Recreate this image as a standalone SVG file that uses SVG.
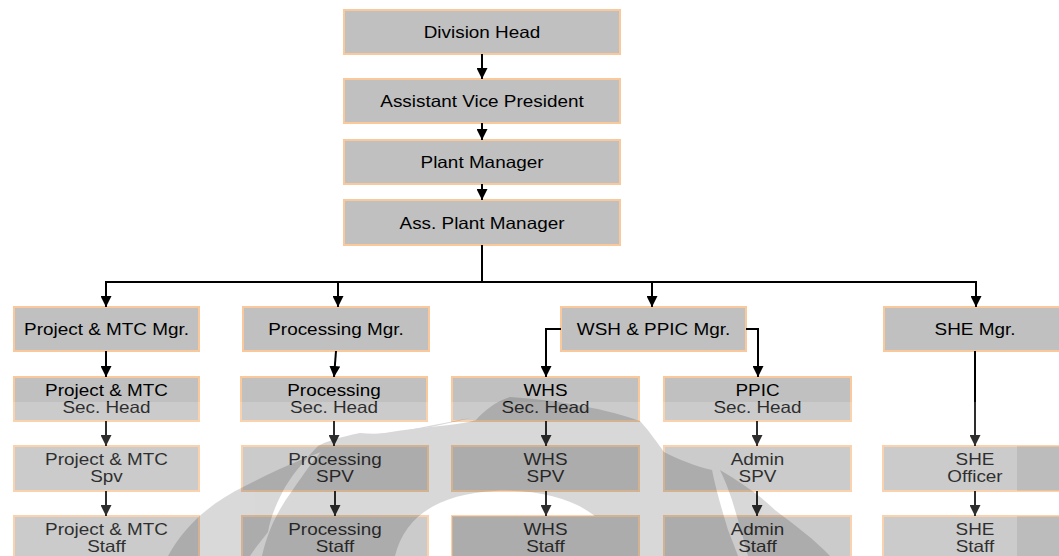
<svg xmlns="http://www.w3.org/2000/svg" width="1059" height="556" viewBox="0 0 1059 556">
  <style>
    .box { fill: #c0c0c0; stroke: #f9c99c; stroke-width: 2; }
    .lbl { font-family: "Liberation Sans", Arial, sans-serif; font-size: 16.3px; fill: #000; text-anchor: middle; }
    .wire { fill: none; stroke: #000; stroke-width: 2; }
    .arrow { fill: none; stroke: #000; stroke-width: 2; marker-end: url(#head); }
  </style>
  <defs>
    <marker id="head" markerUnits="userSpaceOnUse" markerWidth="11" markerHeight="11" refX="11" refY="5.5" orient="auto">
      <path d="M0,0 L11,5.5 L0,11 Z" fill="#000"/>
    </marker>
  </defs>

  <rect width="1059" height="556" fill="#fff"/>

  <!-- executive chain -->
  <g id="division-head">
    <rect class="box" x="344" y="10" width="276" height="44"/>
    <text class="lbl" transform="translate(482,38) scale(1.16 1)">Division Head</text>
  </g>
  <g id="assistant-vice-president">
    <rect class="box" x="344" y="79" width="276" height="44"/>
    <text class="lbl" transform="translate(482,107) scale(1.16 1)">Assistant Vice President</text>
  </g>
  <g id="plant-manager">
    <rect class="box" x="344" y="140" width="276" height="44"/>
    <text class="lbl" transform="translate(482,168) scale(1.16 1)">Plant Manager</text>
  </g>
  <g id="ass-plant-manager">
    <rect class="box" x="344" y="200" width="276" height="45"/>
    <text class="lbl" transform="translate(482,229) scale(1.16 1)">Ass. Plant Manager</text>
  </g>

  <!-- managers -->
  <g id="project-mtc-mgr">
    <rect class="box" x="14" y="307" width="185" height="44"/>
    <text class="lbl" transform="translate(106.5,335) scale(1.16 1)">Project &amp; MTC Mgr.</text>
  </g>
  <g id="processing-mgr">
    <rect class="box" x="243" y="307" width="186" height="44"/>
    <text class="lbl" transform="translate(336,335) scale(1.16 1)">Processing Mgr.</text>
  </g>
  <g id="wsh-ppic-mgr">
    <rect class="box" x="561" y="307" width="185" height="44"/>
    <text class="lbl" transform="translate(653.5,335) scale(1.16 1)">WSH &amp; PPIC Mgr.</text>
  </g>
  <g id="she-mgr">
    <rect class="box" x="884" y="307" width="182" height="44"/>
    <text class="lbl" transform="translate(975,335) scale(1.16 1)">SHE Mgr.</text>
  </g>

  <!-- section heads -->
  <g id="project-mtc-sec-head">
    <rect class="box" x="14" y="377" width="185" height="44"/>
    <text class="lbl" transform="translate(106.5,396) scale(1.16 1)">Project &amp; MTC</text>
    <text class="lbl" transform="translate(106.5,413) scale(1.16 1)">Sec. Head</text>
  </g>
  <g id="processing-sec-head">
    <rect class="box" x="241" y="377" width="186" height="44"/>
    <text class="lbl" transform="translate(334,396) scale(1.16 1)">Processing</text>
    <text class="lbl" transform="translate(334,413) scale(1.16 1)">Sec. Head</text>
  </g>
  <g id="whs-sec-head">
    <rect class="box" x="452" y="377" width="187" height="44"/>
    <text class="lbl" transform="translate(545.5,396) scale(1.16 1)">WHS</text>
    <text class="lbl" transform="translate(545.5,413) scale(1.16 1)">Sec. Head</text>
  </g>
  <g id="ppic-sec-head">
    <rect class="box" x="664" y="377" width="187" height="44"/>
    <text class="lbl" transform="translate(757.5,396) scale(1.16 1)">PPIC</text>
    <text class="lbl" transform="translate(757.5,413) scale(1.16 1)">Sec. Head</text>
  </g>

  <!-- supervisors -->
  <g id="project-mtc-spv">
    <rect class="box" x="14" y="446" width="185" height="45"/>
    <text class="lbl" transform="translate(106.5,465) scale(1.16 1)">Project &amp; MTC</text>
    <text class="lbl" transform="translate(106.5,482) scale(1.16 1)">Spv</text>
  </g>
  <g id="processing-spv">
    <rect class="box" x="242" y="446" width="186" height="45"/>
    <text class="lbl" transform="translate(335,465) scale(1.16 1)">Processing</text>
    <text class="lbl" transform="translate(335,482) scale(1.16 1)">SPV</text>
  </g>
  <g id="whs-spv">
    <rect class="box" x="452" y="446" width="187" height="45"/>
    <text class="lbl" transform="translate(545.5,465) scale(1.16 1)">WHS</text>
    <text class="lbl" transform="translate(545.5,482) scale(1.16 1)">SPV</text>
  </g>
  <g id="admin-spv">
    <rect class="box" x="664" y="446" width="187" height="45"/>
    <text class="lbl" transform="translate(757.5,465) scale(1.16 1)">Admin</text>
    <text class="lbl" transform="translate(757.5,482) scale(1.16 1)">SPV</text>
  </g>
  <g id="she-officer">
    <rect class="box" x="883" y="446" width="183" height="45"/>
    <text class="lbl" transform="translate(975,465) scale(1.16 1)">SHE</text>
    <text class="lbl" transform="translate(975,482) scale(1.16 1)">Officer</text>
  </g>

  <!-- staff -->
  <g id="project-mtc-staff">
    <rect class="box" x="14" y="516" width="185" height="45"/>
    <text class="lbl" transform="translate(106.5,535) scale(1.16 1)">Project &amp; MTC</text>
    <text class="lbl" transform="translate(106.5,552) scale(1.16 1)">Staff</text>
  </g>
  <g id="processing-staff">
    <rect class="box" x="242" y="516" width="186" height="45"/>
    <text class="lbl" transform="translate(335,535) scale(1.16 1)">Processing</text>
    <text class="lbl" transform="translate(335,552) scale(1.16 1)">Staff</text>
  </g>
  <g id="whs-staff">
    <rect class="box" x="452" y="516" width="187" height="45"/>
    <text class="lbl" transform="translate(545.5,535) scale(1.16 1)">WHS</text>
    <text class="lbl" transform="translate(545.5,552) scale(1.16 1)">Staff</text>
  </g>
  <g id="admin-staff">
    <rect class="box" x="664" y="516" width="187" height="45"/>
    <text class="lbl" transform="translate(757.5,535) scale(1.16 1)">Admin</text>
    <text class="lbl" transform="translate(757.5,552) scale(1.16 1)">Staff</text>
  </g>
  <g id="she-staff">
    <rect class="box" x="883" y="516" width="183" height="45"/>
    <text class="lbl" transform="translate(975,535) scale(1.16 1)">SHE</text>
    <text class="lbl" transform="translate(975,552) scale(1.16 1)">Staff</text>
  </g>

  <!-- reporting lines -->
  <g id="connectors">
    <path class="arrow" d="M482,54 V79"/>
    <path class="arrow" d="M482,123 V140"/>
    <path class="arrow" d="M482,184 V200"/>
    <path class="wire" d="M482,245 V282 M105,282 H977"/>
    <path class="arrow" d="M106,282 V307"/>
    <path class="arrow" d="M338,282 V307"/>
    <path class="arrow" d="M652,282 V307"/>
    <path class="arrow" d="M976,282 V307"/>

    <path class="arrow" d="M106,351 V377"/>
    <path class="arrow" d="M336,351 L334,377"/>
    <path class="arrow" d="M561,329 H546 V377"/>
    <path class="arrow" d="M746,329 H758 V377"/>
    <path class="arrow" d="M975,351 V446"/>

    <path class="arrow" d="M106,421 V446"/>
    <path class="arrow" d="M334,421 V446"/>
    <path class="arrow" d="M546,421 V446"/>
    <path class="arrow" d="M757,421 V446"/>

    <path class="arrow" d="M106,491 V516"/>
    <path class="arrow" d="M335,491 V516"/>
    <path class="arrow" d="M546,491 V516"/>
    <path class="arrow" d="M757,491 V516"/>
    <path class="arrow" d="M975,491 V516"/>
  </g>

  <!-- lighter wash over the lower part of the page -->
  <rect x="0" y="402" width="1059" height="154" fill="#fff" fill-opacity="0.18"/>

  <!-- background emblem -->
  <g id="emblem" opacity="0.15" fill="#000">
    <path d="M168,556 C182,530 206,505 245,486 C280,468 320,450 360,440 C400,431 440,424 470,418 C430,428 390,436 360,433 C340,437 325,442 318,446 C300,465 290,478 283,491 C275,506 270,520 268,532 C262,540 255,548 250,556 Z"/>
    <path fill-rule="evenodd" d="M262,556 C268,530 278,510 292,491 C305,472 315,458 326,446 C350,437 400,430 440,426 C460,424 470,422 476,420 C485,410 495,402 510,397 C560,400 610,410 640,421 C650,432 658,444 664,452 C680,460 695,466 712,470 C716,490 722,510 728,530 C732,540 735,548 738,556 Z M395,556 C405,515 440,494 495,491 C550,489 590,505 606,528 C610,538 612,548 613,556 Z"/>
    <rect x="452" y="516" width="187" height="45"/>
    <path d="M720,470 C740,482 760,495 775,510 C795,525 815,540 830,556 L748,556 C744,540 738,520 732,500 C728,488 724,478 720,470 Z"/>
  </g>
  <g id="emblem-edge" fill="#000" fill-opacity="0.07">
    <rect x="1017" y="446" width="42" height="45"/>
    <rect x="1017" y="516" width="42" height="40"/>
  </g>
</svg>
